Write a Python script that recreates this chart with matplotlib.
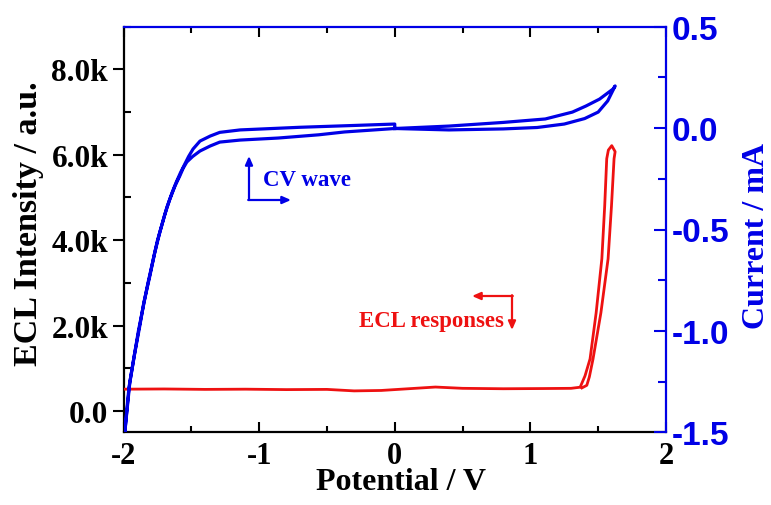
import matplotlib
matplotlib.use("Agg")
import matplotlib.pyplot as plt
from matplotlib.ticker import MultipleLocator, FixedLocator

# ---- data ----
# CV wave (right axis, current in mA): one cyclic scan 0 -> 1.62 -> -2 -> 0 V
cv_potential = [0.0, 0.4, 0.8, 1.05, 1.25, 1.4, 1.5, 1.57, 1.625,
                1.61, 1.57, 1.51, 1.41, 1.31, 1.11, 0.8, 0.4, 0.0,
                -0.37, -0.56, -0.86, -1.14, -1.29, -1.36, -1.436, -1.49, -1.533,
                -1.56, -1.585, -1.62, -1.658, -1.695,
                -1.732, -1.77, -1.806, -1.85, -1.88, -1.92, -1.953, -1.99,
                -1.96, -1.89, -1.82, -1.75, -1.68, -1.64, -1.61, -1.58, -1.55,
                -1.52, -1.487, -1.436, -1.36, -1.29, -1.14, -0.7, -0.3, 0.0, 0.0]
cv_current = [-0.002, -0.009, -0.004, 0.003, 0.020, 0.047, 0.079, 0.134, 0.208,
              0.193, 0.173, 0.143, 0.109, 0.079, 0.045, 0.028, 0.010, -0.002,
              -0.019, -0.033, -0.049, -0.059, -0.069, -0.088, -0.113, -0.140, -0.167,
              -0.198, -0.236, -0.285, -0.350, -0.425,
              -0.513, -0.615, -0.730, -0.860, -0.976, -1.120, -1.252, -1.498,
              -1.28, -1.00, -0.765, -0.555, -0.39, -0.315, -0.265, -0.220, -0.180,
              -0.140, -0.103, -0.064, -0.039, -0.021, -0.009, 0.004, 0.013, 0.020, -0.002]

# ECL response (left axis, a.u.)
ecl_potential = [-2.0, -1.7, -1.4, -1.1, -0.8, -0.5, -0.3, -0.1, 0.1, 0.3, 0.5,
                 0.8, 1.1, 1.3, 1.367, 1.403, 1.44, 1.485, 1.527, 1.548, 1.563,
                 1.575, 1.600, 1.625, 1.617, 1.598, 1.573, 1.52, 1.462, 1.435,
                 1.416, 1.38]
ecl_intensity = [510, 515, 505, 510, 500, 505, 470, 480, 520, 560, 530,
                 520, 525, 530, 556, 823, 1219, 2300, 3564, 4800, 5908,
                 6110, 6214, 6073, 5908, 4800, 3564, 2300, 1219, 800,
                 600, 540]

x_ticks = [-2, -1, 0, 1, 2]
x_ticklabels = ["-2", "-1", "0", "1", "2"]
left_ticks = [0, 2000, 4000, 6000, 8000]
left_ticklabels = ["0.0", "2.0k", "4.0k", "6.0k", "8.0k"]
right_ticks = [-1.5, -1.0, -0.5, 0.0, 0.5]
right_ticklabels = ["-1.5", "-1.0", "-0.5", "0.0", "0.5"]

BLUE = "#0000e6"
RED = "#ee1111"
SERIF = "Liberation Serif"
SANS = "Liberation Sans"

fig = plt.figure(figsize=(7.71, 5.06), dpi=100)
L, R, T, B = 123.5, 666.0, 27.7, 433.3
ax = fig.add_axes([L / 771, 1 - B / 506, (R - L) / 771, (B - T) / 506])
ax2 = ax.twinx()

ax.plot(ecl_potential, ecl_intensity, color=RED, lw=2.0, zorder=3)
ax2.plot(cv_potential, cv_current, color=BLUE, lw=2.3, zorder=3)

ax.set_xlim(-2, 2)
ax.set_ylim(-500, 9000)
ax2.set_ylim(-1.5, 0.5)

# spines
for s in ["top", "right"]:
    ax.spines[s].set_visible(False)
for s in ["left", "bottom"]:
    ax2.spines[s].set_visible(False)
ax.spines["left"].set_color("black")
ax.spines["bottom"].set_color("black")
ax2.spines["top"].set_color(BLUE)
ax2.spines["right"].set_color(BLUE)
for sp in list(ax.spines.values()) + list(ax2.spines.values()):
    sp.set_linewidth(1.6)

# x ticks
ax.xaxis.set_major_locator(FixedLocator(x_ticks))
ax.set_xticklabels(x_ticklabels, fontfamily=SERIF, fontweight="bold", fontsize=22)
ax.xaxis.set_minor_locator(MultipleLocator(0.5))
ax.tick_params(axis="x", which="major", direction="in", length=7, width=1.5,
               top=True, pad=6)
ax.tick_params(axis="x", which="minor", direction="in", length=4, width=1.5, top=True)

# left y ticks
ax.yaxis.set_major_locator(FixedLocator(left_ticks))
ax.set_yticklabels(left_ticklabels, fontfamily=SERIF, fontweight="bold", fontsize=22.5)
ax.yaxis.set_minor_locator(MultipleLocator(1000))
ax.tick_params(axis="y", which="major", direction="out", length=8, width=1.5, pad=3)
ax.tick_params(axis="y", which="minor", direction="in", length=5, width=1.5)

# right y ticks
ax2.yaxis.set_major_locator(FixedLocator(right_ticks))
ax2.set_yticklabels(right_ticklabels, fontfamily=SANS, fontweight="bold", fontsize=24)
ax2.yaxis.set_minor_locator(MultipleLocator(0.25))
ax2.tick_params(axis="y", which="major", direction="in", length=9, width=1.5,
                color=BLUE, labelcolor=BLUE, pad=4)
ax2.tick_params(axis="y", which="minor", direction="in", length=6, width=1.5, color=BLUE)

# axis labels
fig.text(401 / 771, 1 - 483 / 506, "Potential / V", ha="center", va="center",
         fontfamily=SERIF, fontweight="bold", fontsize=23)
fig.text(29 / 771, 1 - 224 / 506, "ECL Intensity / a.u.", ha="center", va="center",
         rotation=90, fontfamily=SERIF, fontweight="bold", fontsize=24.5)
fig.text(757 / 771, 1 - 236 / 506, "Current / mA", ha="center", va="center",
         rotation=90, fontfamily=SERIF, fontweight="bold", fontsize=23, color=BLUE)


def axf(px, py):
    return ((px - L) / (R - L), (B - py) / (B - T))


# annotations
ax.text(*axf(263, 181), "CV wave", transform=ax.transAxes, ha="left", va="center",
        fontfamily=SERIF, fontweight="bold", fontsize=16.5, color=BLUE)
arrow_kw = dict(arrowstyle="-|>,head_length=0.5,head_width=0.22", lw=1.6,
                shrinkA=0, shrinkB=0)
ax.annotate("", xy=axf(249, 157), xytext=axf(249, 201), xycoords="axes fraction",
            textcoords="axes fraction", arrowprops=dict(color=BLUE, **arrow_kw))
ax.annotate("", xy=axf(291, 201), xytext=axf(248.2, 201), xycoords="axes fraction",
            textcoords="axes fraction", arrowprops=dict(color=BLUE, **arrow_kw))

ax.text(*axf(359, 321), "ECL responses", transform=ax.transAxes, ha="left",
        va="center", fontfamily=SERIF, fontweight="bold", fontsize=16.5, color=RED)
ax.annotate("", xy=axf(472, 297), xytext=axf(512.8, 297), xycoords="axes fraction",
            textcoords="axes fraction", arrowprops=dict(color=RED, **arrow_kw))
ax.annotate("", xy=axf(512, 331), xytext=axf(512, 296.2), xycoords="axes fraction",
            textcoords="axes fraction", arrowprops=dict(color=RED, **arrow_kw))

fig.savefig("out.png", dpi=100)
